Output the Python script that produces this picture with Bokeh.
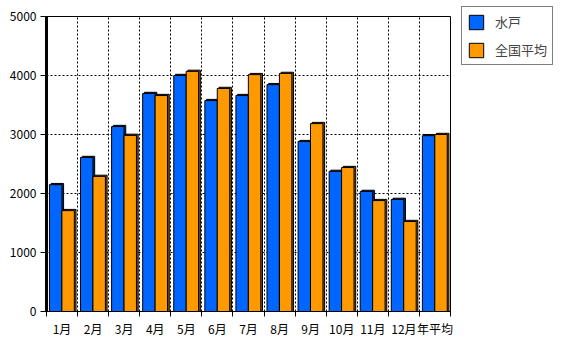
from bokeh.plotting import figure
from bokeh.models import ColumnDataSource, FixedTicker, Legend, LegendItem, Range1d
from bokeh.transform import dodge
from bokeh.embed import file_html
from bokeh.resources import INLINE

categories = ["1月", "2月", "3月", "4月", "5月", "6月", "7月", "8月", "9月", "10月", "11月", "12月", "年平均"]
mito = [2150, 2610, 3135, 3695, 4000, 3575, 3660, 3845, 2880, 2375, 2035, 1900, 2980]
national = [1710, 2290, 2985, 3660, 4070, 3780, 4015, 4035, 3185, 2440, 1880, 1525, 3000]
y_ticks = [0, 1000, 2000, 3000, 4000, 5000]

FONT = "Noto Sans CJK JP"
centers = [i + 0.5 for i in range(len(categories))]

px_y = 5000 / 295.0
src = ColumnDataSource(dict(
    x=centers, mito=mito, national=national,
    mito_s=[v + 1.2 * px_y for v in mito],
    national_s=[v + 1.2 * px_y for v in national],
))

p = figure(frame_width=404, frame_height=295, output_backend="svg", toolbar_location=None,
           x_range=Range1d(0, len(categories)), y_range=Range1d(0, 5000),
           min_border_left=46, min_border_right=118, min_border_top=16, min_border_bottom=30)
p.background_fill_color = "white"
p.border_fill_color = "white"
p.outline_line_color = "black"
p.outline_line_width = 1

w = 0.40
p.vbar(x=dodge("x", -0.205 + 0.055, range=p.x_range), top="mito_s", width=w, source=src,
       fill_color="#00317a", line_color="black", line_width=1)
p.vbar(x=dodge("x", 0.195 + 0.055, range=p.x_range), top="national_s", width=w, source=src,
       fill_color="#8a5500", line_color="black", line_width=1)
r1 = p.vbar(x=dodge("x", -0.205, range=p.x_range), top="mito", width=w, source=src,
            fill_color="#0066ff", line_color="black", line_width=1)
r2 = p.vbar(x=dodge("x", 0.195, range=p.x_range), top="national", width=w, source=src,
            fill_color="#ff9900", line_color="black", line_width=1)

p.xgrid.ticker = FixedTicker(ticks=list(range(1, len(categories))))
p.ygrid.ticker = FixedTicker(ticks=y_ticks[1:-1])
for g in (p.xgrid, p.ygrid):
    g.grid_line_color = "black"
    g.grid_line_dash = "2 2"
    g.grid_line_width = 1

xa = p.xaxis[0]
xa.ticker = FixedTicker(ticks=centers, minor_ticks=list(range(0, len(categories) + 1)))
xa.major_label_overrides = {c: lab for c, lab in zip(centers, categories)}
xa.major_tick_line_color = None
xa.minor_tick_line_color = "black"
xa.minor_tick_out = 5
xa.minor_tick_in = 0
xa.axis_line_color = "black"
xa.axis_line_width = 1
xa.major_label_text_font = FONT
xa.major_label_text_font_size = "12px"
xa.major_label_text_color = "black"
xa.major_label_standoff = 2

ya = p.yaxis[0]
ya.ticker = FixedTicker(ticks=y_ticks)
ya.minor_tick_line_color = None
ya.major_tick_out = 6
ya.major_tick_in = 0
ya.major_tick_line_color = "black"
ya.axis_line_color = "black"
ya.axis_line_width = 3
ya.major_label_text_font = FONT
ya.major_label_text_font_size = "12px"
ya.major_label_text_color = "black"
ya.major_label_standoff = 4

legend = Legend(items=[LegendItem(label="水戸", renderers=[r1]),
                       LegendItem(label="全国平均", renderers=[r2])],
                location=(11, 246))
legend.border_line_color = "black"
legend.border_line_width = 1
legend.background_fill_color = "white"
legend.glyph_width = 18
legend.glyph_height = 18
legend.label_text_font = FONT
legend.label_text_font_size = "13px"
legend.label_standoff = 10
legend.padding = 5
legend.spacing = 9
legend.margin = 0
p.add_layout(legend, "right")

open("out.html", "w").write(file_html(p, INLINE))
